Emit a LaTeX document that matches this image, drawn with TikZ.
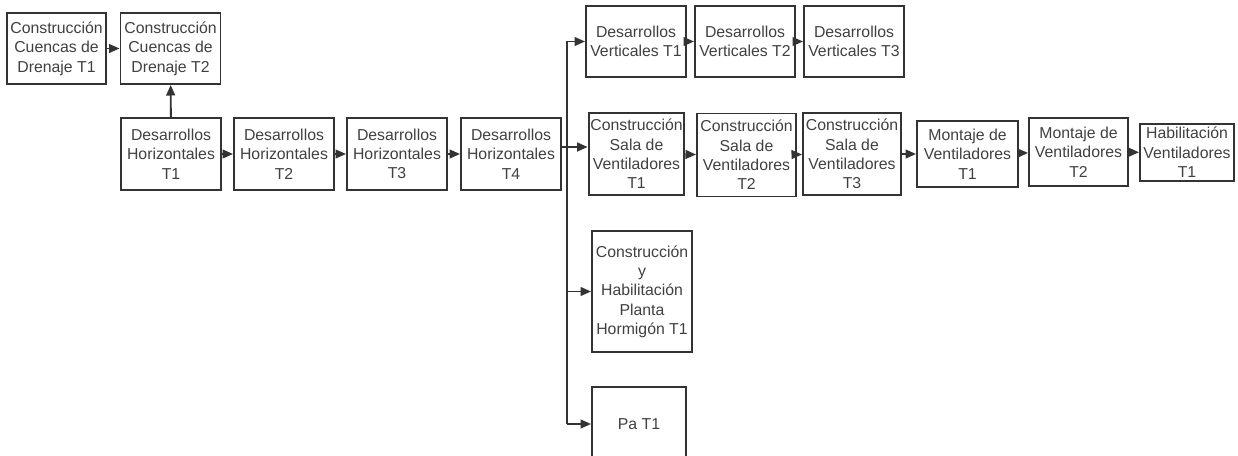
\documentclass[tikz,border=0pt]{standalone}
\usepackage{fontspec}
\setmainfont{Liberation Sans}
\usepackage{tikz}
\usetikzlibrary{arrows.meta, calc}

\definecolor{edge}{HTML}{333333}
\definecolor{ink}{HTML}{404040}

\begin{document}
\begin{tikzpicture}[x=0.02cm, y=-0.02cm,
    box/.style={draw=edge, line width=1.1pt, align=center, inner sep=1pt,
        text=ink, font=\fontsize{9pt}{11pt}\selectfont},
    arr/.style={draw=edge, line width=1.1pt, -{Triangle[length=6pt, width=5pt]}}]
    \useasboundingbox (0,0) rectangle (1238,456);
    \clip (0,0) rectangle (1238,456);

    % drenaje
    \node[box, minimum width=1.98cm, minimum height=1.42cm] (cc1) at (56.5,48.5) {Construcción\\Cuencas de\\Drenaje T1};
    \node[box, minimum width=2cm, minimum height=1.42cm] (cc2) at (170.5,48.5) {Construcción\\Cuencas de\\Drenaje T2};

    % desarrollos horizontales
    \node[box, minimum width=2cm, minimum height=1.44cm] (dh1) at (171,154) {Desarrollos\\Horizontales\\T1};
    \node[box, minimum width=2cm, minimum height=1.44cm] (dh2) at (284,154) {Desarrollos\\Horizontales\\T2};
    \node[box, minimum width=2cm, minimum height=1.44cm] (dh3) at (397,154) {Desarrollos\\Horizontales\\T3};
    \node[box, minimum width=2cm, minimum height=1.44cm] (dh4) at (511,154) {Desarrollos\\Horizontales\\T4};

    % desarrollos verticales
    \node[box, minimum width=2cm, minimum height=1.42cm] (dv1) at (636,41.5) {Desarrollos\\Verticales T1};
    \node[box, minimum width=2cm, minimum height=1.42cm] (dv2) at (745,41.5) {Desarrollos\\Verticales T2};
    \node[box, minimum width=2cm, minimum height=1.42cm] (dv3) at (854,41.5) {Desarrollos\\Verticales T3};

    % sala de ventiladores
    \node[box, minimum width=1.9cm, minimum height=1.64cm] (sv1) at (636.5,154) {Construcción\\Sala de\\Ventiladores\\T1};
    \node[box, minimum width=1.98cm, minimum height=1.66cm] (sv2) at (746.5,155) {Construcción\\Sala de\\Ventiladores\\T2};
    \node[box, minimum width=1.96cm, minimum height=1.64cm] (sv3) at (852,154) {Construcción\\Sala de\\Ventiladores\\T3};
    \node[box, minimum width=2.02cm, minimum height=1.32cm] (mv1) at (967.5,154) {Montaje de\\Ventiladores\\T1};
    \node[box, minimum width=1.98cm, minimum height=1.36cm] (mv2) at (1078.5,152) {Montaje de\\Ventiladores\\T2};
    \node[box, minimum width=1.88cm, minimum height=1.14cm] (hv1) at (1187,152.5) {Habilitación\\Ventiladores\\T1};

    % planta y Pa
    \node[box, minimum width=2cm, minimum height=2.42cm] (hp) at (642,291.5) {Construcción\\y\\Habilitación\\Planta\\Hormigón T1};
    \node[box, minimum width=1.88cm, minimum height=1.48cm] (pa) at (639,424) {Pa T1};

    \coordinate (J) at (567,147);

    \draw[arr] (cc1) -- (cc2);
    \draw[arr] (dh1) -- (cc2);
    \draw[arr] (dh1) -- (dh2);
    \draw[arr] (dh2) -- (dh3);
    \draw[arr] (dh3) -- (dh4);
    \draw[draw=edge, line width=1.1pt] (dh4.east |- J) -- (J);
    \draw[draw=edge, line width=1.1pt] (J |- dv1.west) -- (J |- pa.west);
    \draw[arr] (J |- dv1.west) -- (dv1.west);
    \draw[arr] (J) -- (J -| sv1.west);
    \draw[arr] (J |- hp.west) -- (hp.west);
    \draw[arr] (J |- pa.west) -- (pa.west);
    \draw[arr] (dv1) -- (dv2);
    \draw[arr] (dv2) -- (dv3);
    \draw[arr] (sv1) -- (sv2);
    \draw[arr] (sv2) -- (sv3);
    \draw[arr] (sv3) -- (mv1);
    \draw[arr] (mv1) -- (mv2);
    \draw[arr] (mv2) -- (hv1);
\end{tikzpicture}
\end{document}
